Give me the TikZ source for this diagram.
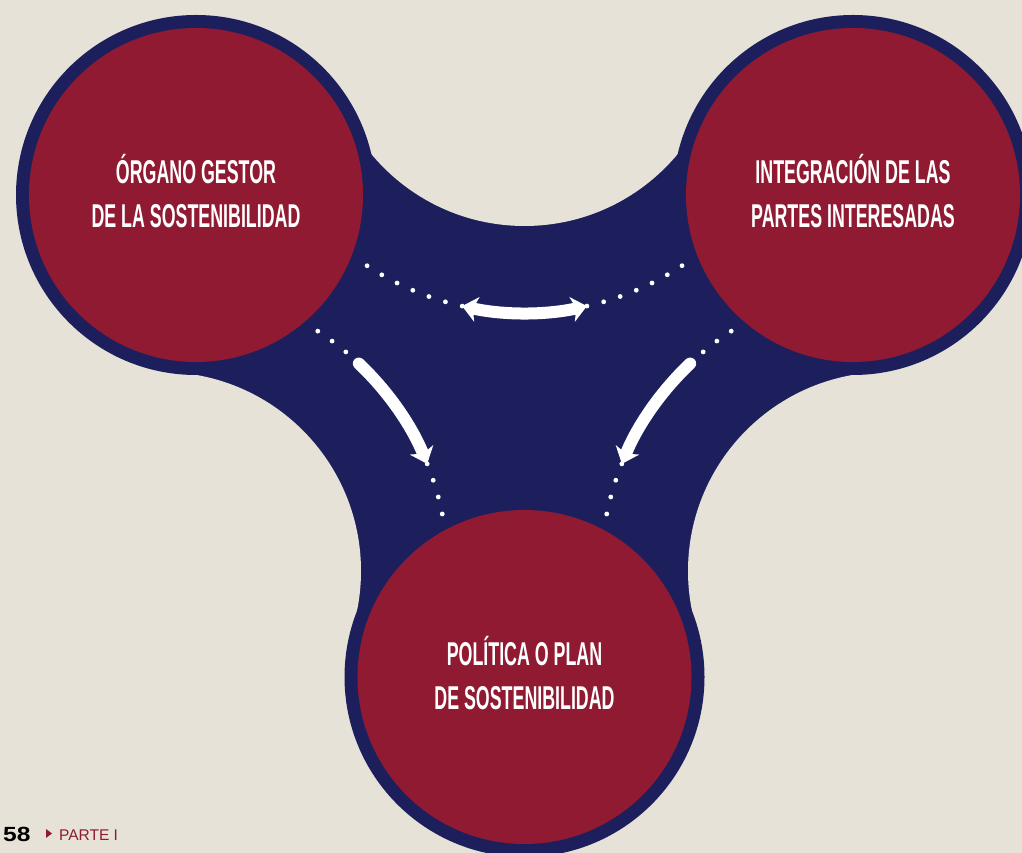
\documentclass[tikz,border=0pt]{standalone}
\usepackage{fontspec}
\usepackage{tikz}
\usetikzlibrary{arrows.meta,calc}
\newfontfamily\circfont[FakeStretch=0.54]{Liberation Sans Bold}
\newfontfamily\pagefont[FakeStretch=1.2]{Liberation Sans Bold}
\newfontfamily\partfont{Liberation Sans}
\definecolor{paper}{RGB}{230,226,215}
\definecolor{navy}{RGB}{29,31,93}
\definecolor{wine}{RGB}{143,26,50}
\tikzset{
  redcirc/.style={circle, fill=wine, minimum size=334pt, inner sep=0pt, text=white, align=center,
    text depth=8pt, font=\circfont\fontsize{33}{44.5}\selectfont},
  ring/.style={fill=navy},
  cutout/.style={fill=paper},
  arr/.style={white, line width=12pt, line cap=round},
  dotw/.style={fill=white},
}

\begin{document}
\begin{tikzpicture}[x=1pt,y=1pt,>={Stealth[length=15pt,width=25pt,inset=4pt]}]
  \clip (0,0) rectangle (1022,853);
  \fill[paper] (0,0) rectangle (1022,853);
  \coordinate (pl) at (196,658);
  \coordinate (pr) at (853,658);
  \coordinate (pb) at (524.5,176);
  \coordinate (ctop) at (524.5,826);
  \coordinate (cleft) at (162,282);
  \coordinate (cright) at (887,282);
  % navy blob
  \fill[ring] (pl) -- (371.3,699) -- (677.7,699) -- (pr) -- (852.6,478) -- (692.2,241.4)
    -- (pb) -- (356.8,241.4) -- (196.4,478) -- cycle;
  \foreach \c in {ctop,cleft,cright} \fill[cutout] (\c) circle (199);
  \foreach \c in {pl,pr,pb} \fill[ring] (\c) circle (180);
  \node[redcirc] (organo) at (pl) {ÓRGANO GESTOR\\DE LA SOSTENIBILIDAD};
  \node[redcirc] (partes) at (pr) {INTEGRACIÓN DE LAS\\PARTES INTERESADAS};
  \node[redcirc] (politica) at (pb) {POLÍTICA O PLAN\\DE SOSTENIBILIDAD};
  % arrows
  \draw[arr,<->] ($(ctop)+(257.4:286)$) arc[start angle=257.4, end angle=282.6, radius=286];
  \draw[arr,->] ($(cleft)+(46.5:286)$) arc[start angle=46.5, end angle=22, radius=286];
  \draw[arr,->] ($(cright)+(133.5:286)$) arc[start angle=133.5, end angle=158, radius=286];
  % dotted arcs
  \foreach \a in {0,...,6} {
    \fill[dotw] ($(ctop)+(236.6+3.47*\a:286)$) circle (2.4);
    \fill[dotw] ($(ctop)+(282.6+3.47*\a:286)$) circle (2.4);
  }
  \foreach \a in {11.5,15,18.5,22,50,53.5,57} {
    \fill[dotw] ($(cleft)+(\a:286)$) circle (2.4);
    \fill[dotw] ($(cright)+(180-\a:286)$) circle (2.4);
  }
  % footer
  \node[anchor=base west, inner sep=0pt, font=\pagefont\fontsize{20.5}{24}\selectfont] (pagenum) at (3,11) {58};
  \fill[wine] (46,24) -- (52,19.5) -- (46,15) -- cycle;
  \node[anchor=base west, inner sep=0pt, text=wine, font=\partfont\fontsize{15.5}{18}\selectfont] (parte) at (59,12) {PARTE I};
\end{tikzpicture}
\end{document}
